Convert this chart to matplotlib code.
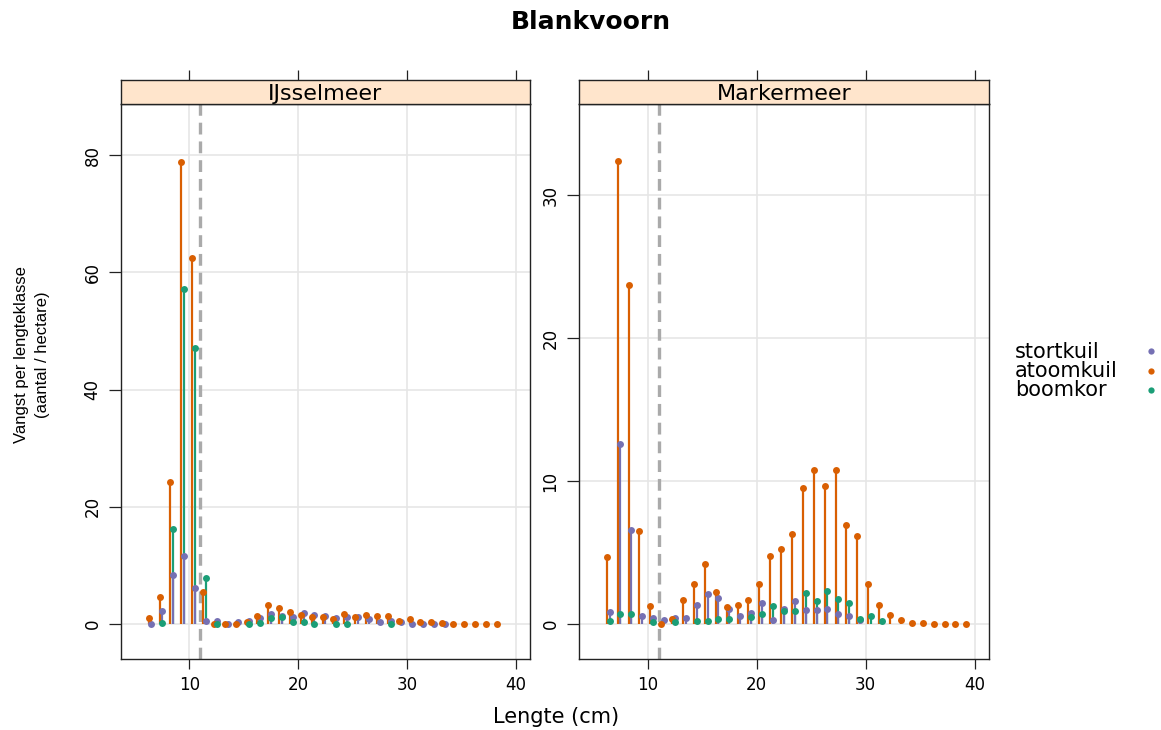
import numpy as np
import matplotlib
matplotlib.use("Agg")
import matplotlib.pyplot as plt

plt.rcParams['font.family'] = ['DejaVu Sans']
plt.rcParams['lines.scale_dashes'] = False

# ---------------- data ----------------
title = "Blankvoorn"
panels = ["IJsselmeer", "Markermeer"]
gears = ["stortkuil", "atoomkuil", "boomkor"]
gear_colors = ["#7570B3", "#D95F02", "#1B9E77"]
xlabel = "Lengte (cm)"
ylabel_1 = "Vangst per lengteklasse"
ylabel_2 = "(aantal / hectare)"
cutoff_length = 11

nan = np.nan
lengths_ijssel = list(range(6, 39))
lengths_marker = list(range(6, 40))

ijssel_atoomkuil = [1.0, 4.65, 24.3, 78.8, 62.5, 5.4, 0, 0, 0, 0.3, 1.45, 3.2, 2.8,
                    2.03, 1.63, 1.28, 1.16, 0.93, 1.69, 1.16, 1.63, 1.34, 1.34, 0.58,
                    0.81, 0.4, 0.3, 0.23, 0, 0, 0, 0, 0]
ijssel_stortkuil = [0, 2.2, 8.4, 11.6, 6.1, 0.5, 0.47, 0, 0.3, 0.52, 1.0, 1.74, 1.45,
                    1.28, 1.86, 1.57, 1.45, 1.05, 1.16, 1.16, 0.93, 0.4, 0.47, 0.4,
                    0, 0, 0, 0, nan, nan, nan, nan, nan]
ijssel_boomkor = [nan, 0.17, 16.2, 57.1, 47.1, 7.9, 0, nan, nan, 0.06, 0.17, 1.05, 1.16,
                  0.3, 0.35, 0.06, nan, 0, 0, nan, nan, nan, 0.06, nan,
                  nan, nan, nan, nan, nan, nan, nan, nan, nan]

marker_atoomkuil = [4.7, 32.4, 23.7, 6.5, 1.28, 0.02, 0.37, 1.72, 2.8, 4.22, 2.26, 1.19,
                    1.35, 1.66, 2.82, 4.76, 5.29, 6.32, 9.53, 10.79, 9.67, 10.77, 6.92,
                    6.18, 2.8, 1.31, 0.63, 0.3, 0.09, 0.09, 0, 0, 0, 0]
marker_stortkuil = [0.82, 12.6, 6.62, 0.56, 0.4, 0.28, 0.4, 0.4, 1.33, 2.12, 1.86, 1.05,
                    0.56, 0.79, 1.47, 0.28, 1.05, 1.61, 0.96, 0.96, 1.07, 0.68, 0.54,
                    0.3, nan, nan, nan, nan, nan, nan, nan, nan, nan, nan]
marker_boomkor = [0.19, 0.72, 0.72, nan, 0.14, nan, 0.14, nan, 0.19, 0.19, 0.35, 0.35,
                  nan, 0.51, 0.72, 1.26, 0.91, 0.91, 2.17, 1.61, 2.33, 1.79, 1.45,
                  0.37, 0.54, 0.19, nan, nan, nan, nan, nan, nan, nan, nan]

x_ticks = [10, 20, 30, 40]
y_ticks_ijssel = [0, 20, 40, 60, 80]
y_ticks_marker = [0, 10, 20, 30]

# offsets of each gear within a length class
gear_offsets = {"stortkuil": 0.5, "atoomkuil": 0.25, "boomkor": 0.5}

panel_data = [
    (lengths_ijssel, {"stortkuil": ijssel_stortkuil, "atoomkuil": ijssel_atoomkuil,
                      "boomkor": ijssel_boomkor}, y_ticks_ijssel, (-5.96, 88.75)),
    (lengths_marker, {"stortkuil": marker_stortkuil, "atoomkuil": marker_atoomkuil,
                      "boomkor": marker_boomkor}, y_ticks_marker, (-2.44, 36.4)),
]

# ---------------- figure ----------------
W, H = 1161, 730
fig = plt.figure(figsize=(W / 100, H / 100), dpi=100)
fig.patch.set_facecolor("white")

panel_left = [121, 579]
panel_width = [409, 410]
panel_top, panel_bottom = 104, 659
strip_top = 80
xlim = (3.7, 41.33)

def fx(px):
    return px / W

def fy(py):
    return 1 - py / H

stem_order = ["boomkor", "stortkuil", "atoomkuil"]
dot_order = ["stortkuil", "atoomkuil", "boomkor"]
color_of = dict(zip(gears, gear_colors))

for i, (lengths, series, yt, ylim) in enumerate(panel_data):
    ax = fig.add_axes([fx(panel_left[i]), fy(panel_bottom), fx(panel_width[i]),
                       (panel_bottom - panel_top) / H])
    ax.set_xlim(*xlim)
    ax.set_ylim(*ylim)
    ax.set_xticks(x_ticks)
    ax.set_yticks(yt)
    ax.grid(True, color="#E6E6E6", lw=1.2)
    ax.set_axisbelow(True)
    for s in ax.spines.values():
        s.set_color("#222222")
        s.set_linewidth(1.0)
    ax.tick_params(axis="x", direction="out", length=7.5, width=0.9, color="#222222",
                   labelsize=12, pad=5, top=False)
    ax.tick_params(axis="y", direction="out", length=9, width=0.9, color="#222222",
                   labelsize=12, pad=5, right=False, labelrotation=90)
    for lab in ax.get_yticklabels():
        lab.set_va("center")
        lab.set_ha("right")
    ax.axvline(cutoff_length, color="#AAAAAA", lw=2.4, dashes=(8.5, 5.0), zorder=1.5)

    xs = np.array(lengths, dtype=float)
    for g in stem_order:
        y = np.array(series[g], dtype=float)
        m = ~np.isnan(y)
        ax.vlines(xs[m] + gear_offsets[g], 0, y[m], colors=color_of[g], lw=1.6, zorder=2)
    for g in dot_order:
        y = np.array(series[g], dtype=float)
        m = ~np.isnan(y)
        ax.plot(xs[m] + gear_offsets[g], y[m], "o", ms=5, mew=0, color=color_of[g],
                zorder=3)

    # strip
    sax = fig.add_axes([fx(panel_left[i]), fy(panel_top), fx(panel_width[i]),
                        (panel_top - strip_top) / H])
    sax.set_facecolor("#FFE5CC")
    sax.set_xlim(*xlim)
    sax.set_ylim(0, 1)
    sax.set_xticks(x_ticks)
    sax.set_yticks([])
    sax.tick_params(axis="x", direction="out", length=7.5, width=0.9, color="#222222",
                    top=True, bottom=False, labeltop=False, labelbottom=False)
    for s in sax.spines.values():
        s.set_color("#222222")
        s.set_linewidth(1.0)
    sax.text(0.5, 4 / 24, panels[i], transform=sax.transAxes, ha="center",
             va="baseline", fontsize=16, color="black")

# title and axis labels
fig.text(fx(590.4), fy(29.3), title, ha="center", va="baseline", fontsize=18,
         fontweight="bold")
fig.text(fx(556.2), fy(723.3), xlabel, ha="center", va="baseline", fontsize=15)
fig.text(fx(21.5), fy(355), ylabel_1, rotation=90, ha="center", va="center",
         fontsize=12, family=["Liberation Sans", "DejaVu Sans"])
fig.text(fx(43), fy(355), ylabel_2, rotation=90, ha="center", va="center",
         fontsize=12, family=["Liberation Sans", "DejaVu Sans"])

# legend
legend_baselines = [358.3, 377.3, 395.7]
legend_dots = [350.7, 370.7, 390.0]
for g, c, yb, yd in zip(gears, gear_colors, legend_baselines, legend_dots):
    fig.text(fx(1015), fy(yb), g, ha="left", va="baseline", fontsize=15)
    fig.lines.append(plt.Line2D([fx(1150.5)], [fy(yd)], transform=fig.transFigure,
                                marker="o", ms=4.5, mew=0, color=c, linestyle="none"))

fig.savefig("out.png", dpi=100)
